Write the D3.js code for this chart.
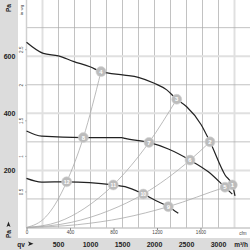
<!DOCTYPE html>
<html><head><meta charset="utf-8">
<script src="https://cdn.jsdelivr.net/npm/d3@7"></script>
<style>html,body{margin:0;padding:0;background:#fff;overflow:hidden}svg{display:block}</style>
</head><body>
<script>
// ---- data (flow in m³/h, pressure in Pa) ----
const fanCurveHigh = [[0,649],[262,610],[497,601],[742,581],[992,563],[1164,546],[1527,534],[1747,526],[1997,505],[2191,482],[2347,449],[2503,423],[2727,361],[2867,300],[3102,184],[3216,149],[3258,111]];
const fanCurveMid  = [[0,338],[237,320],[888,315],[1488,315],[1539,312],[1914,298],[2216,275],[2555,236],[2841,195],[3102,141],[3216,117]];
const fanCurveLow  = [[0,172],[237,159],[628,160],[1356,149],[1539,143],[1825,117],[2059,90],[2216,73],[2372,50]];
const systemCurveA = [[0,0],[300,37],[450,82],[628,160],[888,315],[1164,546]];
const systemCurveB = [[0,0],[500,20],[900,66],[1356,149],[1914,298],[2347,449]];
const systemCurveC = [[0,0],[700,18],[1300,60],[1825,117],[2555,236],[2867,300]];
const systemCurveD = [[0,0],[800,10],[1500,33],[2216,73],[3102,141],[3216,149]];
const pointLabels = ["1","2","3","4","5","6","7","8","9","10","11","12"];
const pointFlow   = [3216,2867,2347,1164,3102,2555,1914,888,2216,1825,1356,628];
const pointPress  = [149,300,449,546,141,236,298,315,73,117,149,160];
const m3hTicks = [500,1000,1500,2000,2500,3000];
const cfmTicks = [0,400,800,1200,1600];
const paTicks  = [200,400,600];
const inwgTicks = [0.5,1,1.5,2,2.5];
const vGrid = [250,500,750,1000,1250,1500,1750,2000,2250,2500,2750,3000,3250];
const hGrid = [100,200,300,400,500,600,700];
const vGridLight = [250,3250];
const hGridLight = [200,400,600];

const W=250,H=250;
const svg=d3.select("body").append("svg").attr("width",W).attr("height",H);
const x=d3.scaleLinear().domain([0,3500]).range([26.5,250.5]);
const y=d3.scaleLinear().domain([0,800]).range([227.5,-0.9]);
const CFM=1.699, INWG=249.09;
const font="'Liberation Sans', Arial, sans-serif";

// bands
svg.append("rect").attr("x",0).attr("y",0).attr("width",18).attr("height",H).attr("fill","#dcdcdc");
svg.append("rect").attr("x",0).attr("y",238).attr("width",W).attr("height",12).attr("fill","#dcdcdc");

// grid
const g=svg.append("g");
g.selectAll(".vg").data(vGrid).join("line")
 .attr("x1",d=>x(d)).attr("x2",d=>x(d)).attr("y1",0).attr("y2",y(0))
 .attr("stroke",d=>vGridLight.includes(d)?"#e0e0e0":"#a8a8a8")
 .attr("stroke-width",d=>vGridLight.includes(d)?2:0.7);
g.selectAll(".hg").data(hGrid).join("line")
 .attr("x1",x(0)).attr("x2",W).attr("y1",d=>y(d)).attr("y2",d=>y(d))
 .attr("stroke",d=>hGridLight.includes(d)?"#e0e0e0":"#a8a8a8")
 .attr("stroke-width",d=>hGridLight.includes(d)?2:0.7);
// axes lines
svg.append("line").attr("x1",x(0)).attr("x2",x(0)).attr("y1",0).attr("y2",y(0)).attr("stroke","#d0d0d0").attr("stroke-width",1.5);
svg.append("line").attr("x1",x(0)).attr("x2",W).attr("y1",y(0)+0.5).attr("y2",y(0)+0.5).attr("stroke","#999").attr("stroke-width",0.8);

// cfm axis
const xc=d3.scaleLinear().domain([0,3500/CFM]).range(x.range());
const cfmAxis=svg.append("g").attr("transform",`translate(0,${y(0)+0.5})`)
 .call(d3.axisBottom(xc).tickValues(cfmTicks).tickSize(2).tickPadding(1).tickFormat(d3.format("d")));
cfmAxis.select(".domain").remove();
cfmAxis.selectAll("line").attr("stroke","#888");
cfmAxis.selectAll("text").attr("font-family",font).attr("font-size",4.6).attr("fill","#444");
svg.append("text").attr("x",243).attr("y",235).attr("text-anchor","middle").attr("font-family",font).attr("font-size",4.6).attr("fill","#444").text("cfm");

// in wg axis
const yi=d3.scaleLinear().domain([0,800/INWG]).range(y.range());
svg.selectAll(".inwgTick").data(inwgTicks).join("line")
 .attr("x1",x(0)-1.5).attr("x2",x(0)).attr("y1",d=>yi(d)).attr("y2",d=>yi(d)).attr("stroke","#888").attr("stroke-width",0.6);
svg.selectAll(".inwgLbl").data(inwgTicks).join("text")
 .attr("transform",d=>`translate(22,${yi(d)}) rotate(-90)`).attr("text-anchor","middle").attr("dy","0.32em")
 .attr("font-family",font).attr("font-size",4.6).attr("fill","#444").text(d=>String(d));
svg.append("text").attr("transform","translate(22,10) rotate(-90)").attr("text-anchor","middle").attr("dy","0.32em")
 .attr("font-family",font).attr("font-size",4.4).attr("fill","#444").text("in wg");

// Pa labels
svg.selectAll(".pa").data(paTicks).join("text").attr("x",9.5).attr("y",d=>y(d)).attr("dy","0.35em")
 .attr("text-anchor","middle").attr("font-family",font).attr("font-weight","bold").attr("font-size",7).attr("fill","#222").text(d=>d);
svg.append("text").attr("transform","translate(9,8) rotate(-90)").attr("text-anchor","middle").attr("dy","0.35em")
 .attr("font-family",font).attr("font-weight","bold").attr("font-size",6.5).attr("fill","#222").text("Pa");
svg.append("text").attr("transform","translate(9,234) rotate(-90)").attr("text-anchor","middle").attr("dy","0.35em")
 .attr("font-family",font).attr("font-weight","bold").attr("font-size",6.5).attr("fill","#222").text("Pa");
svg.append("path").attr("d","M6.5,227 L8.5,221.5 L10.5,227 L8.5,225.8 Z").attr("fill","#222");

// m³/h labels
svg.selectAll(".mh").data(m3hTicks).join("text").attr("x",d=>x(d)).attr("y",246.5)
 .attr("text-anchor","middle").attr("font-family",font).attr("font-weight","bold").attr("font-size",7).attr("fill","#222").text(d=>d);
svg.append("text").attr("x",241).attr("y",246.5).attr("text-anchor","middle").attr("font-family",font).attr("font-weight","bold").attr("font-size",6.5).attr("fill","#222").text("m³/h");
svg.append("text").attr("x",21).attr("y",246.5).attr("text-anchor","middle").attr("font-family",font).attr("font-weight","bold").attr("font-size",6.5).attr("fill","#222").text("qv");
svg.append("path").attr("d","M28,241.5 L33.5,243.8 L28,246 L29.3,243.8 Z").attr("fill","#222");

// curves
const line=d3.line().x(d=>x(d[0])).y(d=>y(d[1])).curve(d3.curveMonotoneX);
[systemCurveA,systemCurveB,systemCurveC,systemCurveD].forEach(c=>{
 svg.append("path").attr("d",line(c)).attr("fill","none").attr("stroke","#aaa").attr("stroke-width",0.8);
});
[fanCurveHigh,fanCurveMid,fanCurveLow].forEach(c=>{
 svg.append("path").attr("d",line(c)).attr("fill","none").attr("stroke","#222").attr("stroke-width",1.2);
});

// operating points
const pts=pointLabels.map((l,i)=>({l,q:pointFlow[i],p:pointPress[i]}));
const pg=svg.selectAll(".pt").data(pts).join("g").attr("transform",d=>`translate(${x(d.q)},${y(d.p)})`);
pg.append("circle").attr("r",5).attr("fill","#bcbcbc").attr("stroke","#d4d4d4").attr("stroke-width",0.6);
pg.append("text").attr("text-anchor","middle").attr("dy","0.36em").attr("font-family",font).attr("font-weight","bold")
 .attr("font-size",d=>d.l.length>1?5.2:6).attr("fill","#fff").text(d=>d.l);
</script>
</body></html>
